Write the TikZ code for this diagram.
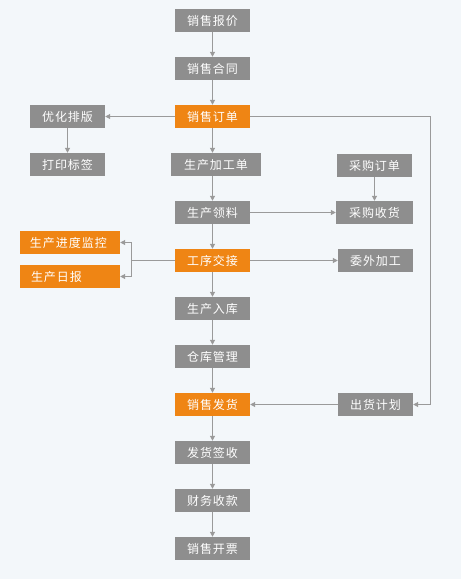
\documentclass[tikz,border=0pt]{standalone}
\usepackage{fontspec}
\newfontfamily\cjk[LetterSpace=8]{Noto Sans CJK SC}
\usetikzlibrary{arrows.meta}
\definecolor{boxgray}{HTML}{8E8E8E}
\definecolor{boxorange}{HTML}{EF8514}
\definecolor{linegray}{HTML}{9A9A9A}
\definecolor{bgblue}{HTML}{F3F7FA}
\begin{document}
\begin{tikzpicture}[
  x=1pt, y=1pt,
  graybox/.style={rectangle, fill=boxgray, text=white, minimum width=75pt, minimum height=23pt, inner sep=0pt},
  orangebox/.style={graybox, fill=boxorange},
  node distance=48pt,
  font=\cjk\fontsize{12}{14}\selectfont,
  >={Triangle[width=5pt,length=5pt]}
]
\fill[bgblue] (0,0) rectangle (461,-579);

% Main column
\node[graybox] (baojia) at (212.5,-20.5) {销售报价};
\node[graybox, below of=baojia] (hetong) {销售合同};
\node[orangebox, below of=hetong] (dingdan) {销售订单};
\node[graybox, below of=dingdan, minimum width=90pt, xshift=3.5pt] (jiagong) {生产加工单};
\node[graybox, below of=dingdan, node distance=96pt] (lingliao) {生产领料};
\node[orangebox, below of=lingliao] (jiaojie) {工序交接};
\node[graybox, below of=jiaojie] (ruku) {生产入库};
\node[graybox, below of=ruku] (cangku) {仓库管理};
\node[orangebox, below of=cangku] (fahuo) {销售发货};
\node[graybox, below of=fahuo] (qianshou) {发货签收};
\node[graybox, below of=qianshou] (shoukuan) {财务收款};
\node[graybox, below of=shoukuan] (kaipiao) {销售开票};

% Left side
\node[graybox, left of=dingdan, node distance=145pt] (paiban) {优化排版};
\node[graybox, below of=paiban] (biaoqian) {打印标签};
\node[orangebox, left of=jiaojie, node distance=142.5pt, yshift=18pt, minimum width=100pt, text width=80pt, align=left] (jiankong) {生产进度监控};
\node[orangebox, left of=jiaojie, node distance=142.5pt, yshift=-16pt, minimum width=100pt, text width=78pt, align=left] (ribao) {生产日报};
\coordinate[left of=jiaojie, node distance=81pt] (fork);

% Right side
\node[graybox, right of=lingliao, node distance=162pt, minimum width=77pt] (shouhuo) {采购收货};
\node[graybox, above of=shouhuo, yshift=-1pt] (caigou) {采购订单};
\node[graybox, right of=jiaojie, node distance=163pt] (weiwai) {委外加工};
\node[graybox, right of=fahuo, node distance=163pt] (jihua) {出货计划};
\coordinate[right of=dingdan, node distance=218pt] (turn);

% Arrows
\begin{scope}[linegray, line width=1pt]
\draw[->] (baojia) -- (hetong);
\draw[->] (hetong) -- (dingdan);
\draw[->] (dingdan.south) -- (dingdan.south |- jiagong.north);
\draw[->] (lingliao.north |- jiagong.south) -- (lingliao.north);
\draw[->] (lingliao) -- (jiaojie);
\draw[->] (jiaojie) -- (ruku);
\draw[->] (ruku) -- (cangku);
\draw[->] (cangku) -- (fahuo);
\draw[->] (fahuo) -- (qianshou);
\draw[->] (qianshou) -- (shoukuan);
\draw[->] (shoukuan) -- (kaipiao);
\draw[->] (dingdan) -- (paiban);
\draw[->] (paiban) -- (biaoqian);
\draw[->] (caigou) -- (shouhuo);
\draw[->] (lingliao) -- (shouhuo);
\draw[->] (jiaojie) -- (weiwai);
\draw (jiaojie) -- (fork);
\draw[->] (fork) |- (jiankong);
\draw[->] (fork) |- (ribao);
\draw[->] (dingdan) -- (turn) |- (jihua);
\draw[->] (jihua) -- (fahuo);
\end{scope}
\end{tikzpicture}
\end{document}
